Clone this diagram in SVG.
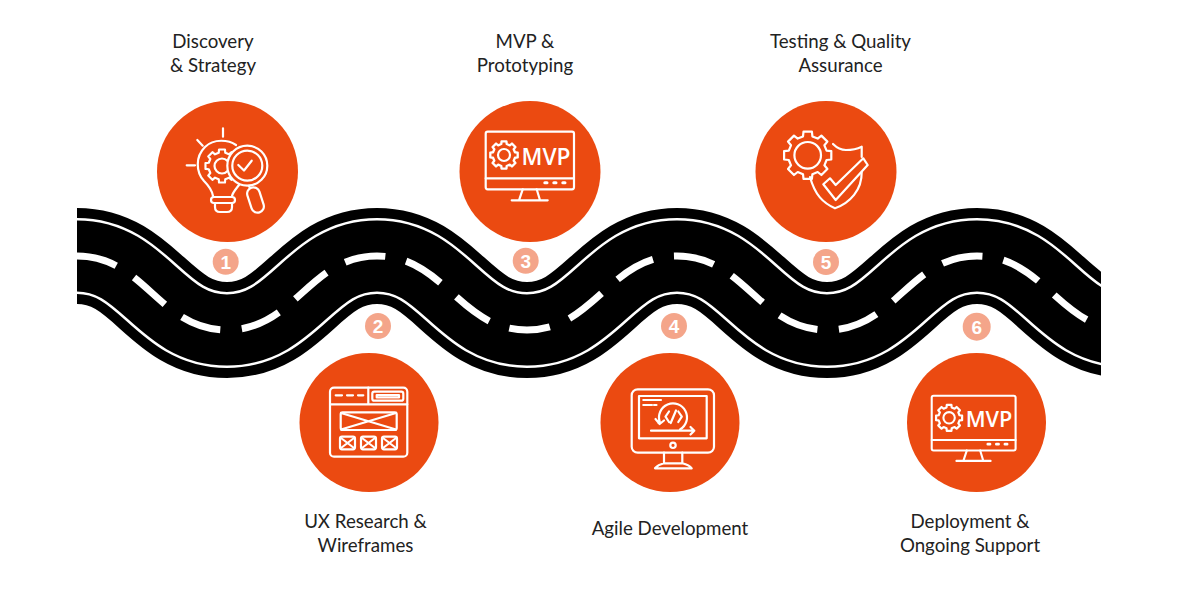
<svg xmlns="http://www.w3.org/2000/svg" width="1200" height="600" viewBox="0 0 1200 600">
<style>
.disc{fill:#EB4A11}
.badge{fill:#F4A58A}
.num{font-family:"Liberation Sans",Arial,sans-serif;font-weight:700;font-size:19px;fill:#fff;text-anchor:middle}
.lbl{font-family:Lato,"Open Sans",sans-serif;font-size:18.7px;fill:#222;text-anchor:middle}
.ic{fill:none;stroke:#fff;stroke-width:2.2;stroke-linecap:round;stroke-linejoin:round}
.icf{fill:#EB4A11;stroke:#fff;stroke-width:2.2;stroke-linecap:round;stroke-linejoin:round}
.road{fill:none}
.mvp{font-family:"Open Sans","Liberation Sans",sans-serif;font-weight:600;font-size:23px;fill:#fff}
</style>
<defs>
<clipPath id="rc"><rect x="77" y="150" width="1024" height="280"/></clipPath>
<path id="rp" d="M7 256C7 256 9 256 77 256C145 256 159 330 227 330C295 330 309 256 377 256C445 256 459 330 527 330C595 330 609 256 677 256C745 256 759 330 827 330C895 330 909 256 977 256C1045 256 1059 330 1127 330"/>
<polygon id="gear" points="18.9,-4.7 23.6,-4.2 23.6,4.2 18.9,4.7 16.7,10 19.7,13.7 13.7,19.7 10,16.7 4.7,18.9 4.2,23.6 -4.2,23.6 -4.7,18.9 -10,16.7 -13.7,19.7 -19.7,13.7 -16.7,10 -18.9,4.7 -23.6,4.2 -23.6,-4.2 -18.9,-4.7 -16.7,-10 -19.7,-13.7 -13.7,-19.7 -10,-16.7 -4.7,-18.9 -4.2,-23.6 4.2,-23.6 4.7,-18.9 10,-16.7 13.7,-19.7 19.7,-13.7 16.7,-10"/>
<g id="mvpicon">
<rect class="ic" x="485.7" y="131.7" width="88.3" height="57.6" rx="2"/>
<path class="ic" d="M485.7 178.3H574M522.7 189.3L519 200.3M536.7 189.3L540 200.3M511.7 200.3H547.7"/>
<path class="ic" style="stroke-width:3" d="M544.8 182.7H547M553.8 182.7H556M562.8 182.7H565"/>
<use href="#gear" class="ic" transform="translate(504 155) scale(.58)" style="stroke-width:4"/>
<circle class="ic" cx="504" cy="155" r="6"/>
<text class="mvp" x="521.5" y="164.5" textLength="49" lengthAdjust="spacingAndGlyphs">MVP</text>
</g>
</defs>

<g id="connectors" clip-path="url(#rc)">
<use href="#rp" class="road" stroke="#000" stroke-width="96"/>
<use href="#rp" class="road" stroke="#fff" stroke-width="76"/>
<use href="#rp" class="road" stroke="#000" stroke-width="71"/>
<use href="#rp" class="road" stroke="#fff" stroke-width="7" stroke-dasharray="40.8 21.4" stroke-dashoffset="-70"/>
</g>

<g id="node1">
<circle class="disc" cx="227.5" cy="171.5" r="70.5"/>
<path class="ic" d="M223 128.3V136.7M197.3 140L202.7 145.7M186.7 165.3H195"/>
<path class="ic" d="M236 145C229 140 214 138 205 147C195 157 196 172 204 181C209 186 212 190 213 196M239 185C236 189 233 192 232 196"/>
<rect class="ic" x="211" y="197" width="24" height="6" rx="3"/>
<path class="ic" d="M215 203V207C215 210 217 212 220 212H227C230 212 232 210 232 207V203"/>
<use href="#gear" class="ic" transform="translate(222 166) scale(.7)" style="stroke-width:3.1"/>
<circle class="ic" cx="222" cy="166" r="7.5"/>
<circle class="icf" cx="247.3" cy="165.7" r="20"/>
<circle class="ic" cx="247.3" cy="165.7" r="15"/>
<path class="ic" d="M238.3 165L244 170.5L251.7 160.7M249 186L251 190"/>
<rect class="icf" x="-6.3" y="-13" width="12.6" height="26" rx="6.3" transform="translate(255.5 200) rotate(-18)"/>
<circle class="badge" cx="225.7" cy="261.7" r="13"/>
<text class="num" x="225.7" y="268.5">1</text>
<text class="lbl" x="213" y="48">Discovery</text>
<text class="lbl" x="213" y="72">&amp; Strategy</text>
</g>

<g id="node2">
<circle class="disc" cx="369" cy="422.5" r="69.5"/>
<rect class="ic" x="330" y="387.7" width="77.3" height="69" rx="4"/>
<path class="ic" d="M330 404.3H407.3M368.3 387.7V404.3M335.7 395.3H342M347 395.3H353M358 395.3H363.3"/>
<rect class="ic" x="372.3" y="391.7" width="31" height="9" rx="2"/>
<rect class="ic" x="376.7" y="395" width="22.3" height="2.4"/>
<rect class="ic" x="340.7" y="412.3" width="56" height="17.7" rx="2"/>
<path class="ic" d="M341 413L396 429.5M396 413L341 429.5"/>
<rect class="ic" x="340" y="436.7" width="15" height="12.6" rx="2"/>
<path class="ic" d="M341 438L354 448M354 438L341 448"/>
<rect class="ic" x="361" y="436.7" width="15" height="12.6" rx="2"/>
<path class="ic" d="M362 438L375 448M375 438L362 448"/>
<rect class="ic" x="382" y="436.7" width="15" height="12.6" rx="2"/>
<path class="ic" d="M383 438L396 448M396 438L383 448"/>
<circle class="badge" cx="378" cy="326" r="13"/>
<text class="num" x="378" y="332.8">2</text>
<text class="lbl" x="365.5" y="528">UX Research &amp;</text>
<text class="lbl" x="365.5" y="552">Wireframes</text>
</g>

<g id="node3">
<circle class="disc" cx="530" cy="171.5" r="70.5"/>
<use href="#mvpicon"/>
<circle class="badge" cx="525.7" cy="260.7" r="13"/>
<text class="num" x="525.7" y="267.5">3</text>
<text class="lbl" x="525" y="48">MVP &amp;</text>
<text class="lbl" x="525" y="72">Prototyping</text>
</g>

<g id="node4">
<circle class="disc" cx="670" cy="422.5" r="69.5"/>
<rect class="ic" x="631.7" y="389.3" width="82.3" height="63.4" rx="6"/>
<rect class="ic" x="639" y="396" width="67.7" height="42.3"/>
<circle class="ic" cx="673" cy="445.3" r="2.7"/>
<path class="ic" d="M664 452.7V463.3M682.3 452.7V463.3M664 463.3H682.3C685 464 690 466 691.7 468.3H655C657 466 661 464 664 463.3Z"/>
<path class="ic" d="M643.3 400H661M643.3 405H652M654 405H656.5M651 430.7H694.3M690.5 427L694.3 430.7L690.5 434.5"/>
<path class="ic" d="M680 429.5A14 14 0 1 0 659.8 422L658.5 423M655.5 419L659.7 424L664 420.5"/>
<path class="ic" d="M669 411.5L665.5 416.7L669 422M678.3 411.5L681.8 416.7L678.3 422M676 410.5L670.7 423"/>
<circle class="badge" cx="674" cy="326" r="13"/>
<text class="num" x="674" y="332.8">4</text>
<text class="lbl" x="670" y="535">Agile Development</text>
</g>

<g id="node5">
<circle class="disc" cx="826" cy="171.5" r="70.5"/>
<path class="ic" d="M833 144C836 147 840 150 846 150C851 150 857 149 861.7 146.7V157M861.7 172C862 190 850 203 835 208.3C823 203 815 195 810 177"/>
<use href="#gear" class="ic" transform="translate(807.7 155.3)"/>
<circle class="ic" cx="807.7" cy="155.3" r="13.3"/>
<path class="icf" d="M823.3 184.3L830 178.3L835.7 185L863.3 158.3L867.7 165L835.7 200Z"/>
<circle class="badge" cx="826" cy="262" r="13"/>
<text class="num" x="826" y="268.8">5</text>
<text class="lbl" x="840.5" y="48">Testing &amp; Quality</text>
<text class="lbl" x="840.5" y="72">Assurance</text>
</g>

<g id="node6">
<circle class="disc" cx="976.5" cy="422.5" r="69.5"/>
<use href="#mvpicon" transform="translate(470.3 270.6) scale(.95)"/>
<circle class="badge" cx="976.7" cy="326.7" r="14"/>
<text class="num" x="976.7" y="333.5">6</text>
<text class="lbl" x="970" y="528">Deployment &amp;</text>
<text class="lbl" x="970" y="552">Ongoing Support</text>
</g>
</svg>
